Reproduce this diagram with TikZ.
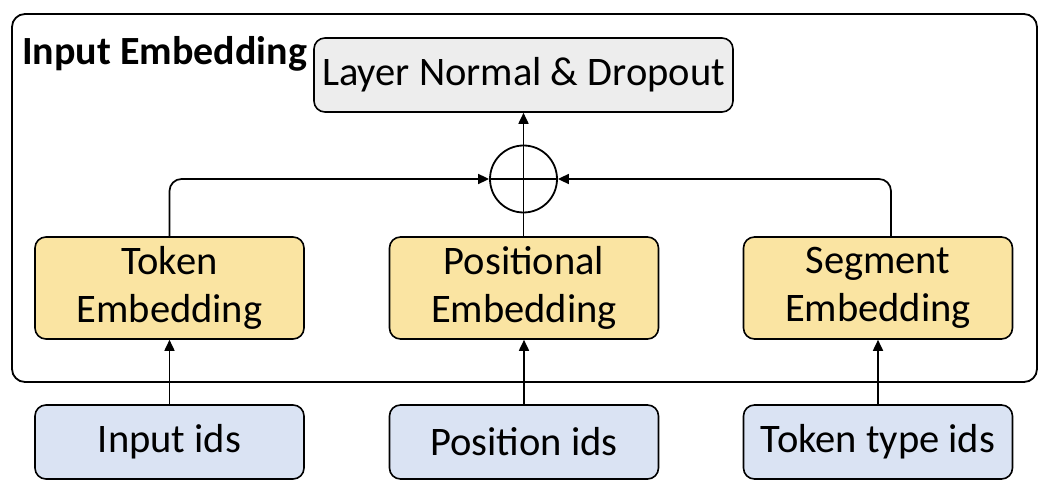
\documentclass[tikz,border=0pt]{standalone}
\usepackage{fontspec}
\setmainfont{Carlito}
\usetikzlibrary{arrows.meta}
\definecolor{embfill}{HTML}{FAE4A2}
\definecolor{idfill}{HTML}{DAE3F3}
\definecolor{lnfill}{HTML}{EDEDED}
\tikzset{
  boxbase/.style={draw=black, line width=1.6pt, rounded corners=11pt, inner sep=0pt, align=center,
    font=\fontsize{40.5}{48}\selectfont, text=black},
  embbox/.style={boxbase, fill=embfill, minimum width=269pt, minimum height=102pt},
  idbox/.style={boxbase, fill=idfill, minimum width=269pt, minimum height=74pt},
  lnbox/.style={boxbase, fill=lnfill, minimum width=419pt, minimum height=74pt},
  sumnode/.style={draw=black, line width=1.8pt, circle, minimum size=67pt, inner sep=0pt},
  arr/.style={line width=1.7pt, -{Triangle[length=11pt,width=10pt]}},
  conn/.style={line width=1.7pt},
}
\begin{document}
\begin{tikzpicture}[x=1pt,y=-1pt]
\useasboundingbox (0,0) rectangle (1050,494);
\draw[line width=1.8pt, rounded corners=13pt] (12,14) rectangle (1037,382);
\node[anchor=base west, font=\bfseries\fontsize{40}{48}\selectfont, inner sep=0pt] (title) at (22,65) {Input Embedding};
\node[lnbox] (ln) at (523.5,75) {Layer Normal \& Dropout};
\node[sumnode] (sum) at (523.5,179) {};
\node[embbox] (tok) at (169.5,288) {Token\\Embedding};
\node[embbox] (pos) at (524,288) {Positional\\Embedding};
\node[embbox] (seg) at (878,288) {Segment\\Embedding};
\node[idbox] (inp) at (169.5,442) {Input ids};
\node[idbox] (pid) at (524,442) {Position ids};
\node[idbox] (tid) at (878,442) {Token type ids};
\draw[arr] (inp.north) -- (tok.south);
\draw[arr] (pid.north) -- (pos.south);
\draw[arr] (tid.north) -- (seg.south);
\draw[arr] (pos.north -| sum.center) -- (ln.south -| sum.center);
\draw[conn] (sum.west) -- (sum.east);
\draw[arr, rounded corners=12pt] (tok.north) |- (sum.west);
\draw[arr, rounded corners=12pt] ([xshift=13pt]seg.north) |- (sum.east);
\end{tikzpicture}
\end{document}
